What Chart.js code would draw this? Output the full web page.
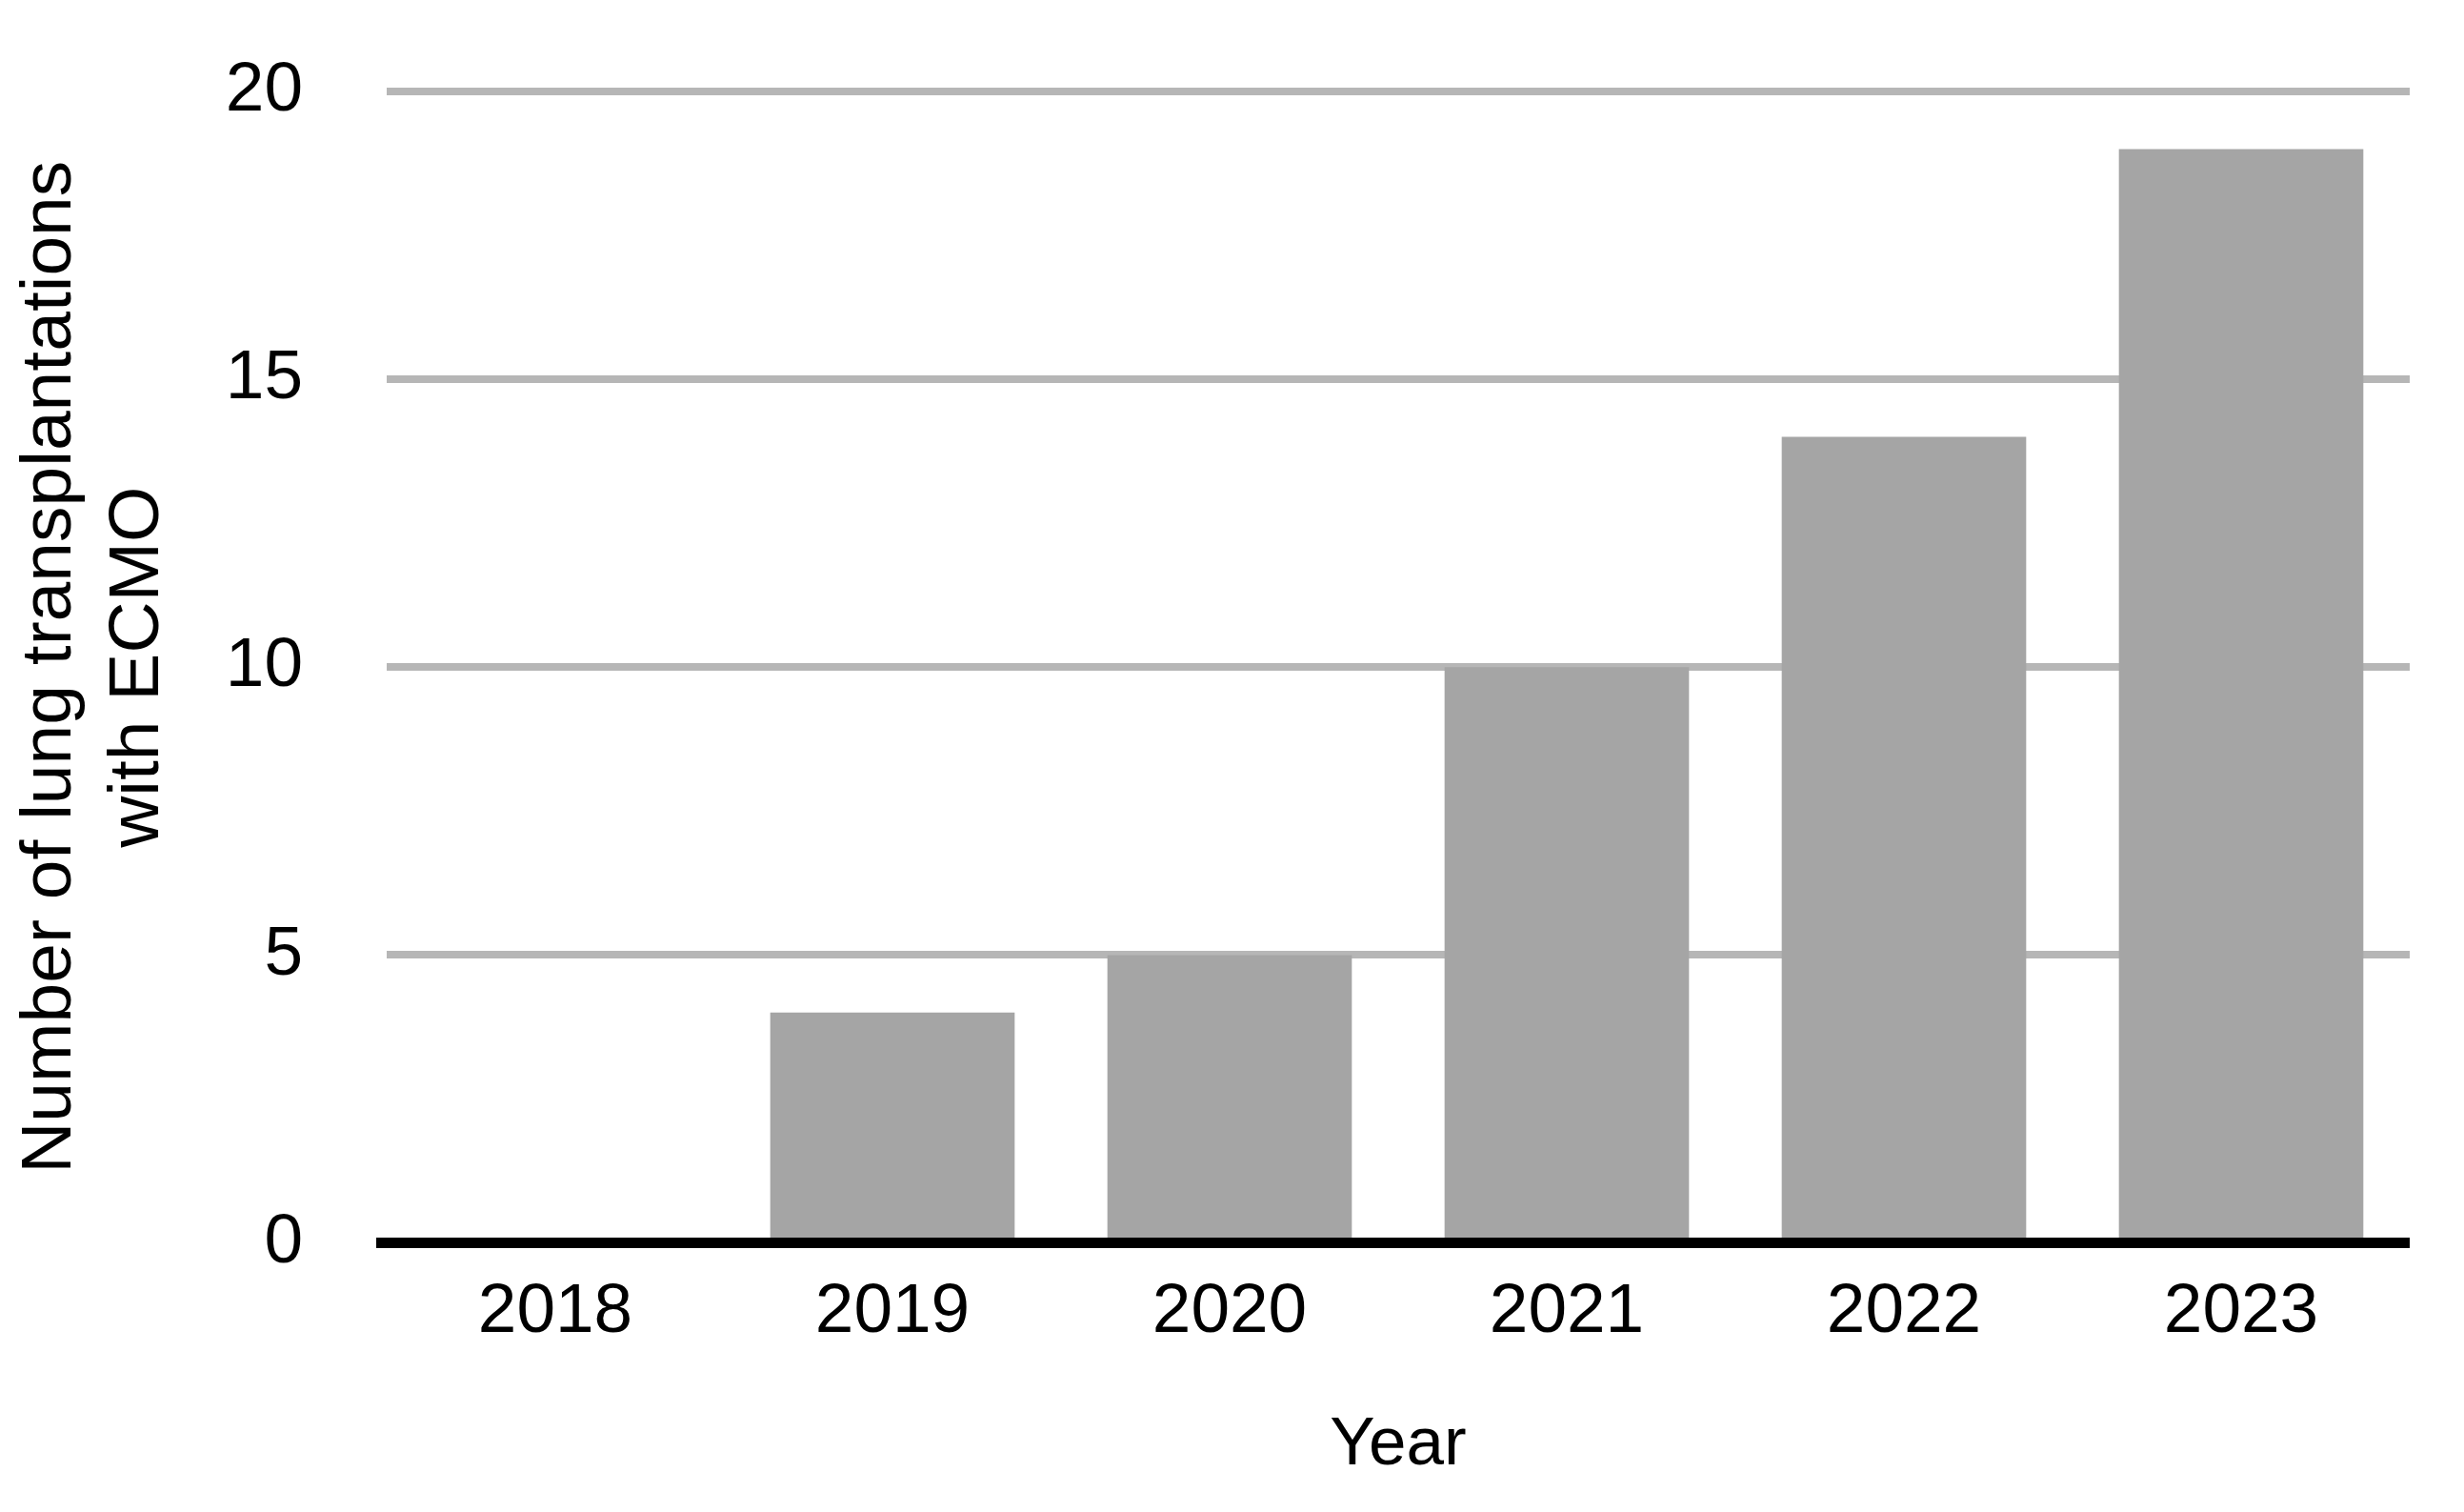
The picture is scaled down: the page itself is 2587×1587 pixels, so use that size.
<!DOCTYPE html>
<html>
<head>
<meta charset="utf-8">
<script src="https://cdn.jsdelivr.net/npm/chart.js@4/dist/chart.umd.min.js"></script>
<style>
  html, body { margin: 0; padding: 0; background: #ffffff; }
  #wrap { width: 2587px; height: 1587px; position: relative; }
</style>
</head>
<body>
<div id="wrap"><canvas id="c"></canvas></div>
<script>
const categories = ['2018', '2019', '2020', '2021', '2022', '2023'];
const ecmoCounts = [0, 4, 5, 10, 14, 19];
const yTickValues = [0, 5, 10, 15, 20];
const yTitleLines = ['Number of lung transplantations', 'with ECMO'];
const xTitle = 'Year';

const FONT = '"Liberation Sans", Arial, Helvetica, sans-serif';

const baselinePlugin = {
  id: 'baseline',
  afterDatasetsDraw(chart) {
    const { ctx, chartArea, scales } = chart;
    const py = scales.y.getPixelForValue(0);
    ctx.save();
    ctx.strokeStyle = '#000000';
    ctx.lineWidth = 11;
    ctx.beginPath();
    ctx.moveTo(chartArea.left - 11, py);
    ctx.lineTo(chartArea.right, py);
    ctx.stroke();
    ctx.restore();
  }
};

new Chart(document.getElementById('c'), {
  type: 'bar',
  data: {
    labels: categories,
    datasets: [{
      data: ecmoCounts,
      backgroundColor: '#a5a5a5',
      borderWidth: 0,
      barPercentage: 0.725,
      categoryPercentage: 1.0
    }]
  },
  options: {
    responsive: true,
    maintainAspectRatio: false,
    animation: false,
    devicePixelRatio: 1,
    layout: { padding: { top: 96, right: 57, left: 0, bottom: 0 } },
    plugins: {
      legend: { display: false },
      tooltip: { enabled: false }
    },
    scales: {
      x: {
        grid: { display: false },
        border: { display: false },
        ticks: {
          color: '#000000',
          font: { family: FONT, size: 73 },
          padding: 22
        },
        title: {
          display: true,
          text: xTitle,
          color: '#000000',
          font: { family: FONT, size: 71 },
          padding: { top: 0, bottom: 27 }
        },
        afterFit(scale) { scale.height = 1587 - 1304.5; }
      },
      y: {
        min: 0,
        max: 20,
        afterBuildTicks(scale) { scale.ticks = yTickValues.map(v => ({ value: v })); },
        grid: {
          drawTicks: true,
          tickLength: 80,
          tickColor: 'rgba(0,0,0,0)',
          lineWidth: 8,
          color: (ctx) => (ctx.tick && ctx.tick.value === 0) ? 'rgba(0,0,0,0)' : '#b6b6b6'
        },
        border: { display: false },
        ticks: {
          color: '#000000',
          font: { family: FONT, size: 73 },
          padding: 8
        },
        title: {
          display: true,
          text: yTitleLines,
          color: '#000000',
          font: { family: FONT, size: 75, lineHeight: 1.22 },
          padding: { top: 8, bottom: 0 }
        },
        afterFit(scale) { scale.width = 406; }
      }
    }
  },
  plugins: [baselinePlugin]
});
</script>
</body>
</html>
